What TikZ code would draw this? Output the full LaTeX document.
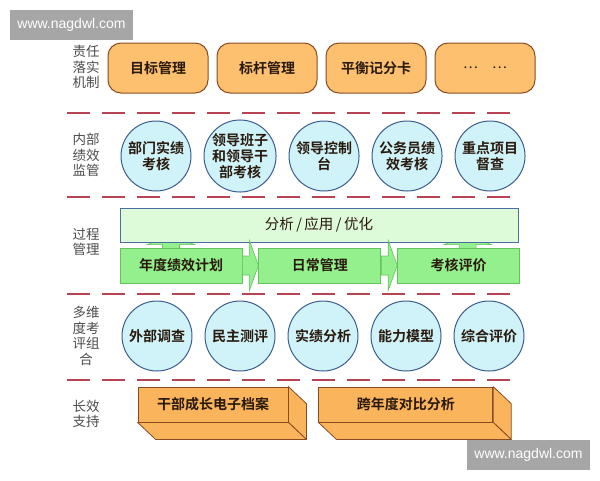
\documentclass[tikz,border=0pt]{standalone}
\usepackage{fontspec}
\setmainfont{Noto Sans CJK SC}[BoldFont={Noto Sans CJK SC Bold}]
\newfontfamily\wmfont{Liberation Sans}
\usetikzlibrary{positioning}
\definecolor{dutyfill}{HTML}{FCC06E}
\definecolor{boxfill}{HTML}{F9B45C}
\definecolor{brownline}{HTML}{8A4B22}
\definecolor{darktext}{HTML}{2A1A0E}
\definecolor{circfill}{HTML}{CFF3F9}
\definecolor{circline}{HTML}{3C5D8F}
\definecolor{planfill}{HTML}{DDFBD8}
\definecolor{planline}{HTML}{4A6FA5}
\definecolor{procfill}{HTML}{93F08C}
\definecolor{procline}{HTML}{62C45B}
\definecolor{dashred}{HTML}{B84453}
\pgfdeclarelayer{back}
\pgfsetlayers{back,main}

\begin{document}
\begin{tikzpicture}[x=1pt,y=-1pt,
    font=\bfseries\fontsize{14}{16}\selectfont, text=darktext,
    side/.style={font=\fontsize{13.5}{15.5}\selectfont, text=black!70, align=center},
    duty/.style={draw=brownline, fill=dutyfill, line width=1pt, rounded corners=13pt,
                 minimum width=100pt, minimum height=50pt},
    monitor/.style={circle, draw=circline, fill=circfill, line width=1pt,
                    minimum size=70pt, inner sep=0pt, align=center},
    plan/.style={draw=planline, fill=planfill, line width=0.8pt,
                 minimum width=398pt, minimum height=34pt, font=\fontsize{14.5}{16}\selectfont},
    procbox/.style={draw=procline, fill=procfill, line width=0.8pt,
                    minimum width=122pt, minimum height=35pt},
    flow/.style={draw=procline, fill=procfill, line width=0.6pt, line join=miter},
    archive/.style={draw=brownline, fill=boxfill, line width=0.8pt, minimum height=35pt},
    prism/.style={draw=brownline, fill=boxfill, line width=0.8pt, line join=round},
    divider/.style={draw=dashred, line width=1.8pt, dash pattern=on 23pt off 12pt},
    wmark/.style={fill=black!35, text=white, font=\wmfont\fontsize{14}{16}\selectfont,
                  minimum width=123pt, minimum height=30pt}]

  \useasboundingbox (0,0) rectangle (600,480);

  % row labels
  \node[side] (l1) at (86,67)  {责任\\落实\\机制};
  \node[side] (l2) at (86,155) {内部\\绩效\\监管};
  \node[side] (l3) at (86,242) {过程\\管理};
  \node[side] (l4) at (86,336) {多维\\度考\\评组\\合};
  \node[side] (l5) at (86,414) {长效\\支持};

  % dividers
  \foreach \y in {113,197,294,380}
    \draw[divider] (67,\y) -- (513,\y);

  % responsibility
  \node[duty] (d1) at (158,68)      {目标管理};
  \node[duty] (d2) [right=8pt of d1] {标杆管理};
  \node[duty] (d3) [right=8pt of d2] {平衡记分卡};
  \node[duty] (d4) [right=8pt of d3] {\mdseries…\quad…};

  % internal monitoring
  \node[monitor] (m1) at (156,156)     {部门实绩\\考核};
  \node[monitor] (m2) [right=12pt of m1] {领导班子\\和领导干\\部考核};
  \node[monitor] (m3) [right=12pt of m2] {领导控制\\台};
  \node[monitor] (m4) [right=12pt of m3] {公务员绩\\效考核};
  \node[monitor] (m5) [right=12pt of m4] {重点项目\\督查};

  % process
  \node[procbox] (p1) at (181,265.5)    {年度绩效计划};
  \node[procbox] (p2) [right=16pt of p1] {日常管理};
  \node[procbox] (p3) [right=16pt of p2] {考核评价};
  \node[plan] (ana) at (319,225) {分析\,/\,应用\,/\,优化};

  \begin{pgfonlayer}{back}
    \foreach \b/\dx in {p1/-10,p3/9}
      \draw[flow] ([shift={(\dx-8.5,2)}]\b.north) -- ([shift={(\dx-8.5,-3)}]\b.north)
        -- ([shift={(\dx-23.5,-3)}]\b.north) -- ([shift={(\dx,-13)}]\b.north)
        -- ([shift={(\dx+23.5,-3)}]\b.north) -- ([shift={(\dx+8.5,-3)}]\b.north)
        -- ([shift={(\dx+8.5,2)}]\b.north) -- cycle;
  \end{pgfonlayer}
  \foreach \a/\b in {p1/p2,p2/p3}
    \draw[flow] ([shift={(0,-9.5)}]\a.east) -- ([shift={(7,-9.5)}]\a.east)
      -- ([shift={(7,-25)}]\a.east) -- (\b.west) -- ([shift={(7,25)}]\a.east)
      -- ([shift={(7,9.5)}]\a.east) -- ([shift={(0,9.5)}]\a.east) -- cycle;

  % assessment
  \node[monitor] (a1) at (157,336)     {外部调查};
  \node[monitor] (a2) [right=12pt of a1] {民主测评};
  \node[monitor] (a3) [right=12pt of a2] {实绩分析};
  \node[monitor] (a4) [right=12pt of a3] {能力模型};
  \node[monitor] (a5) [right=12pt of a4] {综合评价};

  % long-term support
  \node[archive, minimum width=150pt] (f1) at (213,404.5)   {干部成长电子档案};
  \node[archive, minimum width=174pt] (f2) [right=30pt of f1] {跨年度对比分析};
  \foreach \f in {f1,f2} {
    \draw[prism] (\f.north east) -- ([shift={(18,17)}]\f.north east)
      -- ([shift={(18,17)}]\f.south east) -- (\f.south east) -- cycle;
    \draw[prism] (\f.south west) -- ([shift={(18,17)}]\f.south west)
      -- ([shift={(18,17)}]\f.south east) -- (\f.south east) -- cycle;
  }

  % watermarks
  \node[wmark] (w1) at (71.5,25)  {www.nagdwl.com};
  \node[wmark] (w2) at (528.5,455) {www.nagdwl.com};

\end{tikzpicture}
\end{document}
